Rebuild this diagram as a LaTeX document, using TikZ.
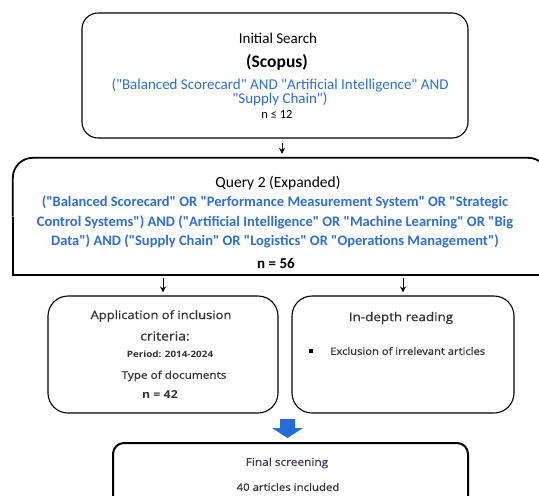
\documentclass[tikz,border=0pt]{standalone}
\usepackage{fontspec}
\setmainfont{Carlito}[Ligatures=TeXOff]
\newfontfamily\gsans{Open Sans}[FakeStretch=1.12]
\newfontfamily\gsansm{Open Sans}[FakeStretch=1.12,FakeBold=0.6]
\usetikzlibrary{arrows.meta}
\definecolor{qblue}{RGB}{46,112,204}
\definecolor{arrblue}{RGB}{38,110,215}
\definecolor{txtgray}{RGB}{50,50,50}
\begin{document}
\begin{tikzpicture}[x=1pt,y=-1pt,
  box/.style={draw, line width=1.1pt, inner sep=0pt},
  arr/.style={-{Stealth[length=6pt,width=6pt]}, line width=1pt, shorten <=4pt, shorten >=4pt},
  gtext/.style={text=txtgray, font=\gsans\fontsize{11}{13}\selectfont, inner sep=0pt},
  ctext/.style={font=\fontsize{13}{15}\selectfont, inner sep=0pt}]
\useasboundingbox[fill=white] (0,0) rectangle (539,496);
% boxes
\node[box, rounded corners=16pt, minimum width=386pt, minimum height=125pt] (b1) at (275,75.5) {};
\node[inner sep=0pt, minimum width=535pt, minimum height=117pt] (b2) at (280.5,216.5) {};
\draw[line width=1.8pt] (b2.west) -- (b2.south west) -- (b2.south east);
\draw[line width=1.8pt, rounded corners=20pt] (b2.west) -- (b2.north west) -- (b2.north east) -- (b2.east);
\node[box, rounded corners=20pt, minimum width=230pt, minimum height=117pt] (b3) at (163,354.5) {};
\node[box, rounded corners=20pt, minimum width=222pt, minimum height=117pt] (b4) at (403,354.5) {};
\node[box, line width=2pt, rounded corners=11pt, minimum width=355pt, minimum height=80pt] (b5) at (290.5,483) {};
% arrows
\coordinate (ax) at (282,0);
\draw[arr] (b1.south -| ax) -- (b2.north -| ax);
\draw[arr, shorten <=3pt, shorten >=3pt] (b2.south -| b3.north) -- (b3.north);
\draw[arr, shorten <=3pt, shorten >=3pt] (b2.south -| b4.north) -- (b4.north);
\fill[arrblue] (280,419) -- (295,419) -- (295,428) -- (303,428) -- (287.5,438) -- (272,428) -- (280,428) -- cycle;
% box 1 text
\node[ctext, font=\fontsize{15}{17}\selectfont] (t1a) at (278,38) {Initial Search};
\node[inner sep=0pt, font=\bfseries\fontsize{17.5}{19}\selectfont] (t1b) at (277,62) {(Scopus)};
\node[inner sep=0pt, text=qblue, align=center, font=\fontsize{15}{14.5}\selectfont] (t1c) at (280,92) {("Balanced Scorecard" AND "Artificial Intelligence" AND\\"Supply Chain")};
\node[ctext, font=\fontsize{12.5}{14}\selectfont] (t1d) at (277,114) {n ≤ 12};
% box 2 text
\node[ctext, font=\fontsize{15.5}{18}\selectfont] (t2a) at (278,183) {Query 2 (Expanded)};
\node[inner sep=0pt, text=qblue, align=center, font=\bfseries\fontsize{14.5}{19.5}\selectfont] (t2b) at (275,222) {("Balanced Scorecard" OR "Performance Measurement System" OR "Strategic\\Control Systems") AND ("Artificial Intelligence" OR "Machine Learning" OR "Big\\Data") AND ("Supply Chain" OR "Logistics" OR "Operations Management")};
\node[inner sep=0pt, font=\bfseries\fontsize{15}{17}\selectfont] (t2c) at (276,263) {n = 56};
% box 3 text
\node[gtext, font=\gsansm\fontsize{11.6}{13}\selectfont] (t3a) at (161,316) {Application of inclusion};
\node[gtext, font=\gsansm\fontsize{12.5}{14}\selectfont] (t3b) at (165,336) {criteria:};
\node[gtext, font=\gsans\bfseries\fontsize{8.8}{10}\selectfont] (t3c) at (170,354) {Period: 2014-2024};
\node[gtext, font=\gsansm\fontsize{10.5}{12}\selectfont] (t3d) at (174,376) {Type of documents};
\node[gtext, font=\gsans\bfseries\fontsize{11}{13}\selectfont] (t3e) at (160,395) {n = 42};
% box 4 text
\node[gtext, font=\gsansm\fontsize{12}{14}\selectfont] (t4a) at (401,318) {In-depth reading};
\node[fill=black, minimum size=3.5pt, inner sep=0pt] (t4b) at (311,351) {};
\node[gtext, anchor=west, font=\gsansm\fontsize{10}{12}\selectfont] (t4c) at (330,351) {Exclusion of irrelevant articles};
% box 5 text
\node[gtext, text={rgb,255:red,70;green,60;blue,85}, font=\gsansm\fontsize{10.6}{12}\selectfont] (t5a) at (287,463) {Final screening};
\node[gtext, font=\gsansm\fontsize{10.2}{12}\selectfont] (t5b) at (288,487) {40 articles included};
\end{tikzpicture}
\end{document}
